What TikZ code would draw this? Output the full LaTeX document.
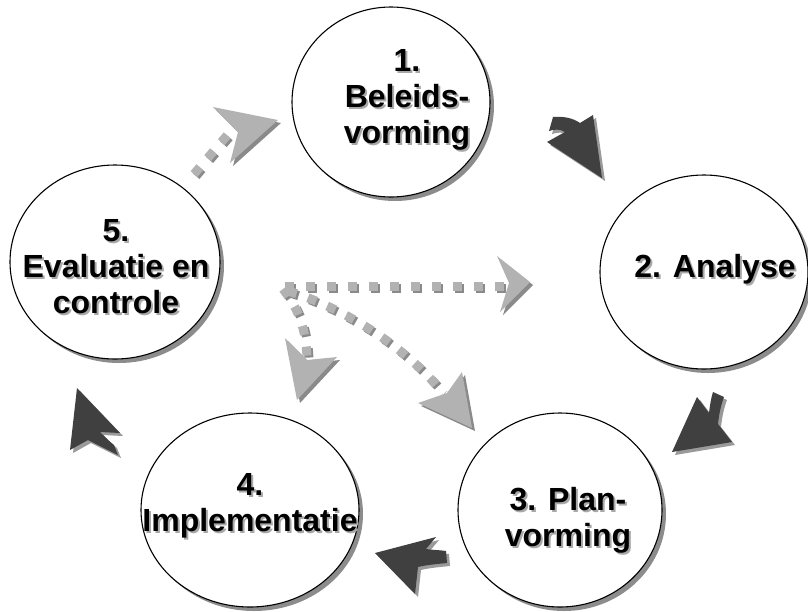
\documentclass[tikz,border=0pt]{standalone}
\usepackage{fontspec}
\setmainfont{Liberation Sans}
\usetikzlibrary{shapes.geometric,shadows}
\definecolor{darkarrow}{HTML}{404040}
\definecolor{darkshadow}{HTML}{9A9A9A}
\definecolor{lightarrow}{HTML}{B2B2B2}
\definecolor{lightshadow}{HTML}{8A8A8A}
\definecolor{ellshadow}{HTML}{8C8C8C}
\definecolor{txtshadow}{HTML}{A8A8A8}
\newcommand\shtxt[1]{\rlap{\hspace{2pt}\raisebox{-2pt}{\textcolor{txtshadow}{#1}}}#1}
\begin{document}
\begin{tikzpicture}[x=1pt,y=-1pt,
 ell/.style={ellipse, draw=black, line width=1.1pt, fill=white, inner sep=0pt,
   drop shadow={shadow xshift=4pt, shadow yshift=-4pt, fill=ellshadow, opacity=1}},
 lbl/.style={font=\bfseries\fontsize{32}{36}\selectfont, align=center, inner sep=0pt, text=black},
 dotline/.style={line width=9pt, dash pattern=on 9pt off 12pt},
]
\useasboundingbox (0,0) rectangle (808,611);

% ellipses
\node[ell, minimum width=198pt, minimum height=190pt] (e1) at (391,102) {};
\node[ell, minimum width=208pt, minimum height=194pt] (e2) at (704,272) {};
\node[ell, minimum width=204pt, minimum height=194pt] (e3) at (560,510) {};
\node[ell, minimum width=218pt, minimum height=194pt] (e4) at (250,510) {};
\node[ell, minimum width=210pt, minimum height=194pt] (e5) at (115,262) {};

% labels (with text shadow)
\node[lbl] (t1) at (407,101) {\shtxt{1.}\\\shtxt{Beleids-}\\\shtxt{vorming}};
\node[lbl] (t2) at (715,270) {\shtxt{2. Analyse}};
\node[lbl] (t3) at (568,521) {\shtxt{3. Plan-}\\\shtxt{vorming}};
\node[lbl] (t4) at (250,507) {\shtxt{4.}\\\shtxt{Implementatie}};
\node[lbl] (t5) at (116,268) {\shtxt{5.}\\\shtxt{Evaluatie en}\\\shtxt{controle}};

% dark curved arrows (shadow first)
\foreach \dx/\dy/\c in {3/3/darkshadow, 0/0/darkarrow} {
  \fill[\c, shift={(\dx,\dy)}] (602,178) -- (547,142) -- (565,132)
     .. controls (560,129) and (555,129) .. (549,131) -- (553,117)
     .. controls (563,116) and (573,118) .. (580,123) -- (593,115) -- cycle;
  \fill[\c, shift={(\dx,\dy)}] (672,452) -- (697,397) -- (709,413)
     .. controls (710,405) and (711,398) .. (713,392) -- (724,397)
     .. controls (721,405) and (719,414) .. (718,424) -- (732,442) -- cycle;
  \fill[\c, shift={(\dx,\dy)}] (375,553) -- (436,537) -- (426,549)
     .. controls (432,550) and (440,550) .. (446,551) -- (447,563)
     .. controls (437,564) and (426,565) .. (418,567) -- (415,594) -- cycle;
  \fill[\c, shift={(\dx,\dy)}] (77,388) -- (120,433) -- (100,432)
     .. controls (106,438) and (110,442) .. (114,445) -- (118,455)
     .. controls (108,450) and (96,444) .. (88,440) -- (70,450) -- cycle;
}

% light dotted arrows (shadow first)
\foreach \dx/\dy/\c in {2/2/lightshadow, 0/0/lightarrow} {
  \draw[dotline, draw=\c, shift={(\dx,\dy)}] (285,286) -- (506,286);
  \draw[dotline, draw=\c, shift={(\dx,\dy)}] (288,291) .. controls (335,305) and (400,340) .. (444,394);
  \draw[dotline, draw=\c, shift={(\dx,\dy)}] (283,289) .. controls (298,308) and (306,328) .. (307,358);
  \draw[dotline, draw=\c, shift={(\dx,\dy)}] (194,174) -- (230,132);
}
\foreach \dx/\dy/\c in {3/3/lightshadow, 0/0/lightarrow} {
  \fill[\c, shift={(\dx,\dy)}] (530,282) -- (497,256) -- (509,283) -- (500,312) -- cycle;
  \fill[\c, shift={(\dx,\dy)}] (297,400) -- (285,338) -- (307,360) -- (337,357) -- cycle;
  \fill[\c, shift={(\dx,\dy)}] (472,428) -- (462,372) -- (447,393) -- (418,403) -- cycle;
  \fill[\c, shift={(\dx,\dy)}] (278,120) -- (213,107) -- (238,132) -- (230,163) -- cycle;
}
\end{tikzpicture}
\end{document}
